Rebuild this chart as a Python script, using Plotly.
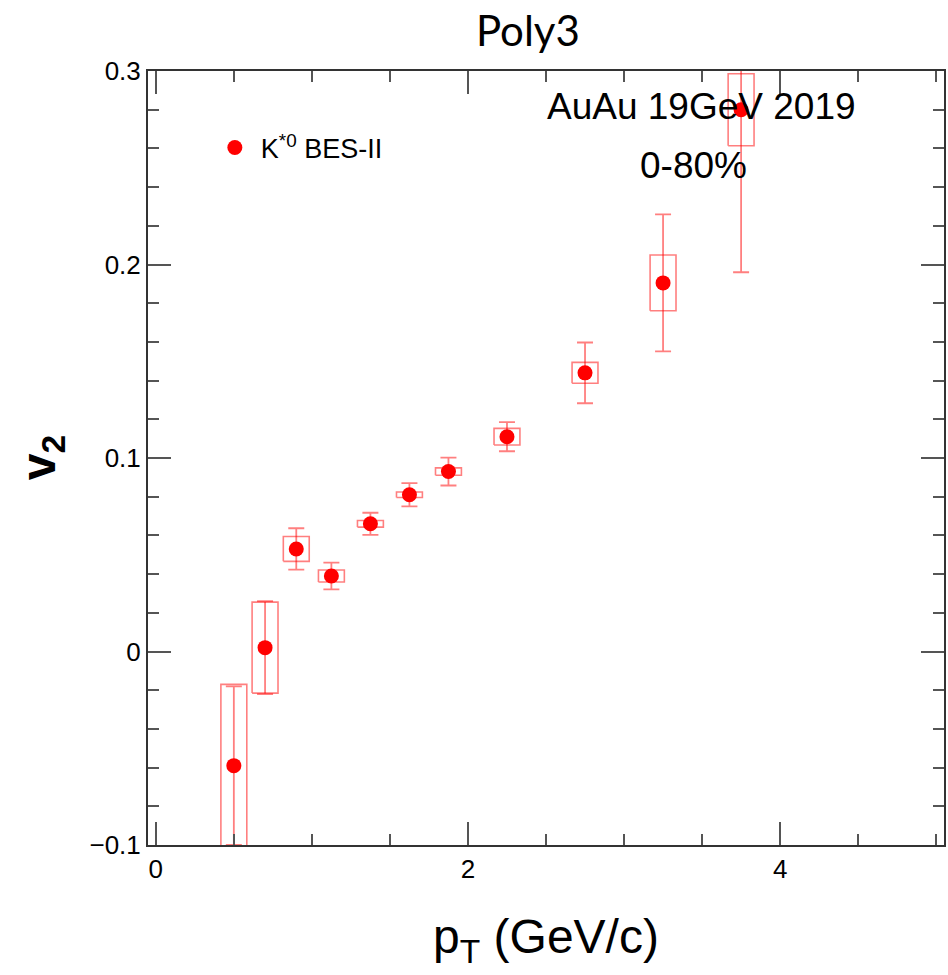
import plotly.graph_objects as go

# ---- data ----
pt = [0.5, 0.7, 0.9, 1.125, 1.375, 1.625, 1.875, 2.25, 2.75, 3.25, 3.75]
v2 = [-0.059, 0.002, 0.053, 0.039, 0.066, 0.081, 0.093, 0.111, 0.144, 0.1905, 0.280]
stat_err = [0.041, 0.024, 0.0107, 0.0069, 0.0057, 0.006, 0.0072, 0.0075, 0.0157, 0.0354, 0.084]
sys_err = [0.042, 0.0235, 0.0064, 0.0031, 0.0017, 0.0014, 0.0019, 0.0043, 0.0054, 0.0144, 0.0186]
box_halfwidth = 0.083

x_ticks = [0, 2, 4]
y_ticks = [-0.1, 0, 0.1, 0.2, 0.3]
y_ticklabels = ["\u22120.1", "0", "0.1", "0.2", "0.3"]

title_text = "Poly3"
legend_name = "K<sup>*0</sup> BES-II"
label1 = "AuAu 19GeV 2019"
label2 = "0-80%"

# page geometry (pixels)
W, H = 948, 975
L, R, T, B = 148, 2, 71, 130
PW, PH = W - L - R, H - T - B


def px_x(p):
    return (p - L) / PW


def px_y(p):
    return 1 - (p - T) / PH


RED = "#ff0000"
RED_A = "rgba(255,0,0,0.5)"
FONT = "Liberation Sans, Arial, Helvetica, sans-serif"

# systematic boxes built from the data arrays
bx, by = [], []
for x, y, s in zip(pt, v2, sys_err):
    x0, x1 = x - box_halfwidth, x + box_halfwidth
    y0, y1 = y - s, y + s
    bx += [x0, x1, x1, x0, x0, None]
    by += [y0, y0, y1, y1, y0, None]

fig = go.Figure()
fig.add_trace(go.Scatter(
    x=bx, y=by, mode="lines",
    line=dict(color=RED_A, width=1.6),
    showlegend=False, hoverinfo="skip",
))
fig.add_trace(go.Scatter(
    x=pt, y=v2, mode="markers", name=legend_name,
    marker=dict(color=RED, size=15, line=dict(width=0)),
    error_y=dict(type="data", array=stat_err, visible=True,
                 color=RED_A, thickness=1.8, width=8),
))

axis_common = dict(
    showline=True, linecolor="#333333", linewidth=2, mirror="allticks",
    ticks="inside", tickcolor="#555555", tickwidth=1.6,
    showgrid=False, zeroline=False,
    tickfont=dict(family=FONT, size=26, color="#000000"),
)

fig.update_xaxes(
    range=[-0.05, 5.05], tickvals=x_ticks, ticklen=23,
    minor=dict(dtick=0.5, ticks="inside", ticklen=11, tickcolor="#555555", tickwidth=1.6),
    ticklabelstandoff=0,
    **axis_common,
)
fig.update_yaxes(
    range=[-0.1, 0.3], tickvals=y_ticks, ticktext=y_ticklabels, ticklen=23,
    minor=dict(dtick=0.02, ticks="inside", ticklen=11, tickcolor="#555555", tickwidth=1.6),
    ticklabelstandoff=0,
    **axis_common,
)

annotations = [
    dict(text=title_text, x=px_x(529), y=px_y(30), xref="paper", yref="paper",
         showarrow=False, xanchor="center", yanchor="middle",
         font=dict(family="Lato, Open Sans, sans-serif", size=42, color="#000000")),
    dict(text="p<sub>T</sub> (GeV/c)", x=0.5, y=px_y(940), xref="paper", yref="paper",
         showarrow=False, xanchor="center", yanchor="middle",
         font=dict(family=FONT, size=48, color="#000000")),
    dict(text="<b>v<sub>2</sub></b>", x=px_x(42), y=0.5, xref="paper", yref="paper",
         showarrow=False, xanchor="center", yanchor="middle", textangle=-90,
         font=dict(family=FONT, size=48, color="#000000")),
    dict(text=label1, x=px_x(703), y=px_y(107), xref="paper", yref="paper",
         showarrow=False, xanchor="center", yanchor="middle",
         font=dict(family=FONT, size=37, color="#000000")),
    dict(text=label2, x=px_x(695), y=px_y(166), xref="paper", yref="paper",
         showarrow=False, xanchor="center", yanchor="middle",
         font=dict(family=FONT, size=37, color="#000000")),
]

fig.update_layout(
    width=W, height=H,
    margin=dict(l=L, r=R, t=T, b=B),
    paper_bgcolor="white", plot_bgcolor="white",
    annotations=annotations,
    showlegend=True,
    legend=dict(x=px_x(209), y=px_y(148), xanchor="left", yanchor="middle",
                bgcolor="rgba(0,0,0,0)", borderwidth=0, itemwidth=42,
                font=dict(family=FONT, size=27, color="#000000")),
)

fig.write_html("out.html")
